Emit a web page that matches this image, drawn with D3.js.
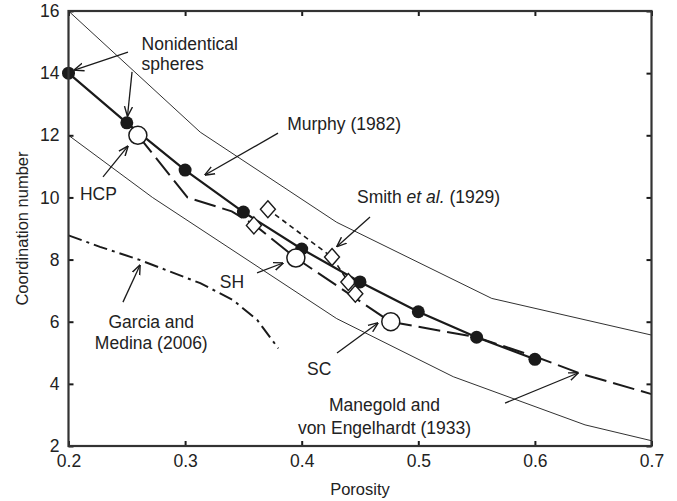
<!DOCTYPE html>
<html><head><meta charset="utf-8">
<script src="https://cdn.jsdelivr.net/npm/d3@7"></script>
<style>
body{margin:0;background:#fff;}
svg text{font-family:"Liberation Sans",Arial,Helvetica,sans-serif;fill:#222;}
</style></head><body>
<svg id="chart" width="677" height="501"></svg>
<script>
// Axis ticks
const xTicks = [0.2, 0.3, 0.4, 0.5, 0.6, 0.7];
const yTicks = [2, 4, 6, 8, 10, 12, 14, 16];

// Murphy (1982): nonidentical spheres
const murphyPorosity = [0.2, 0.25, 0.3, 0.35, 0.4, 0.45, 0.5, 0.55, 0.6];
const murphyCoord    = [14.0, 12.4, 10.88, 9.53, 8.34, 7.28, 6.32, 5.5, 4.79];

// Upper and lower bounding curves
const upperPorosity = [0.2, 0.313, 0.43, 0.563, 0.7];
const upperCoord    = [16.0, 12.1, 9.2, 6.75, 5.57];
const lowerPorosity = [0.2, 0.272, 0.43, 0.53, 0.643, 0.7];
const lowerCoord    = [12.0, 10.0, 6.1, 4.23, 2.68, 2.17];

// Manegold and von Engelhardt (1933)
const manegoldPorosity = [0.2595, 0.302, 0.34, 0.36, 0.395, 0.476, 0.52, 0.55, 0.6, 0.64, 0.7];
const manegoldCoord    = [12.0, 10.0, 9.55, 9.1, 8.05, 6.0, 5.7, 5.5, 4.88, 4.32, 3.67];

// Regular packings: hexagonal close, simple hexagonal, simple cubic
const packingNames    = ["HCP", "SH", "SC"];
const packingPorosity = [0.2595, 0.395, 0.4764];
const packingCoord    = [12.0, 8.05, 6.0];

// Smith et al. (1929)
const smithPorosity = [0.359, 0.371, 0.426, 0.440, 0.446];
const smithCoord    = [9.1, 9.62, 8.08, 7.28, 6.9];

// Garcia and Medina (2006)
const garciaPorosity = [0.2, 0.227, 0.261, 0.313, 0.341, 0.362, 0.38];
const garciaCoord    = [8.78, 8.41, 7.99, 7.24, 6.70, 6.05, 5.14];

// Annotation arrows: [fromPorosity, fromCoord, toPorosity, toCoord]
const arrows = [
  [0.251, 14.68, 0.205, 14.1],
  [0.2545, 14.04, 0.2506, 12.62],
  [0.2296, 10.66, 0.251, 11.65],
  [0.3797, 12.07, 0.317, 10.72],
  [0.4586, 9.37, 0.4303, 8.42],
  [0.3617, 7.57, 0.384, 7.89],
  [0.2467, 6.63, 0.2613, 7.82],
  [0.4303, 4.99, 0.4654, 5.96],
  [0.5744, 3.38, 0.637, 4.35]
];

// Annotation labels: [text, porosity, coord, anchor]
const labels = [
  ["Nonidentical", 0.2627, 14.75, "start"],
  ["spheres", 0.2627, 14.1, "start"],
  ["HCP", 0.2098, 9.92, "start"],
  ["Murphy (1982)", 0.3876, 12.17, "start"],
  ["SH", 0.3298, 7.1, "start"],
  ["Garcia and", 0.271, 5.8, "middle"],
  ["Medina (2006)", 0.271, 5.12, "middle"],
  ["SC", 0.4046, 4.3, "start"],
  ["Manegold and", 0.471, 3.13, "middle"],
  ["von Engelhardt (1933)", 0.471, 2.39, "middle"]
];
const smithLabel = {porosity: 0.4474, coord: 9.82};

const svg = d3.select("#chart");
const x = d3.scaleLinear().domain([0.2, 0.7]).range([68.5, 651.5]);
const y = d3.scaleLinear().domain([2, 16]).range([446, 11]);
const ink = "#1a1a1a";
const fontSize = 17.5;

const defs = svg.append("defs");
defs.append("marker").attr("id", "head")
  .attr("viewBox", "0 -5 10 10").attr("refX", 9.5).attr("refY", 0)
  .attr("markerWidth", 10).attr("markerHeight", 10).attr("markerUnits", "userSpaceOnUse")
  .attr("orient", "auto")
  .append("path").attr("d", "M0,-4L10,0L0,4")
  .attr("fill", "none").attr("stroke", ink).attr("stroke-width", 1.4);

const line = d3.line().x(d => x(d[0])).y(d => y(d[1]));
const pairs = (a, b) => a.map((v, i) => [v, b[i]]);

// bounding curves
svg.append("path").datum(pairs(upperPorosity, upperCoord)).attr("d", line)
  .attr("fill", "none").attr("stroke", ink).attr("stroke-width", 0.9);
svg.append("path").datum(pairs(lowerPorosity, lowerCoord)).attr("d", line)
  .attr("fill", "none").attr("stroke", ink).attr("stroke-width", 0.9);

// Garcia and Medina dash-dot curve
svg.append("path").datum(pairs(garciaPorosity, garciaCoord)).attr("d", line)
  .attr("fill", "none").attr("stroke", ink).attr("stroke-width", 2)
  .attr("stroke-dasharray", "14,5,3,5");

// Manegold dashed curve
svg.append("path").datum(pairs(manegoldPorosity, manegoldCoord)).attr("d", line)
  .attr("fill", "none").attr("stroke", ink).attr("stroke-width", 2)
  .attr("stroke-dasharray", "22,7");

// Smith short-dash curve
svg.append("path").datum(pairs(smithPorosity.slice(1), smithCoord.slice(1))).attr("d", line)
  .attr("fill", "none").attr("stroke", ink).attr("stroke-width", 1.6)
  .attr("stroke-dasharray", "5,4");

// Murphy solid curve
svg.append("path").datum(pairs(murphyPorosity, murphyCoord)).attr("d", line)
  .attr("fill", "none").attr("stroke", ink).attr("stroke-width", 2.2);

// Smith diamonds
svg.append("g").selectAll("path").data(pairs(smithPorosity, smithCoord)).join("path")
  .attr("transform", d => `translate(${x(d[0])},${y(d[1])})`)
  .attr("d", "M0,-8.5L7.5,0L0,8.5L-7.5,0Z")
  .attr("fill", "#fff").attr("stroke", ink).attr("stroke-width", 1.4);

// Murphy filled circles
svg.append("g").selectAll("circle").data(pairs(murphyPorosity, murphyCoord)).join("circle")
  .attr("cx", d => x(d[0])).attr("cy", d => y(d[1])).attr("r", 6.5)
  .attr("fill", ink);

// regular packing open circles
svg.append("g").selectAll("circle").data(pairs(packingPorosity, packingCoord)).join("circle")
  .attr("cx", d => x(d[0])).attr("cy", d => y(d[1])).attr("r", 9)
  .attr("fill", "#fff").attr("stroke", ink).attr("stroke-width", 1.5);

// arrows
svg.append("g").selectAll("line").data(arrows).join("line")
  .attr("x1", d => x(d[0])).attr("y1", d => y(d[1]))
  .attr("x2", d => x(d[2])).attr("y2", d => y(d[3]))
  .attr("stroke", ink).attr("stroke-width", 1.3)
  .attr("marker-end", "url(#head)");

// labels
svg.append("g").selectAll("text").data(labels).join("text")
  .attr("x", d => x(d[1])).attr("y", d => y(d[2]))
  .attr("text-anchor", d => d[3])
  .attr("font-size", fontSize)
  .text(d => d[0]);
const st = svg.append("text").attr("x", x(smithLabel.porosity)).attr("y", y(smithLabel.coord))
  .attr("font-size", fontSize);
st.append("tspan").text("Smith ");
st.append("tspan").attr("font-style", "italic").text("et al.");
st.append("tspan").text(" (1929)");

// axes with inward ticks on all four sides
function styleAxis(g) {
  g.select(".domain").remove();
  g.selectAll(".tick line").attr("stroke", ink).attr("stroke-width", 2);
  g.selectAll(".tick text").attr("font-size", fontSize).attr("fill", "#222")
    .attr("font-family", '"Liberation Sans",Arial,sans-serif');
}
svg.append("g").attr("transform", "translate(0,446)")
  .call(d3.axisBottom(x).tickValues(xTicks).tickFormat(d3.format(".1f")).tickSize(-5).tickPadding(9))
  .call(styleAxis);
svg.append("g").attr("transform", "translate(0,11)")
  .call(d3.axisTop(x).tickValues(xTicks).tickFormat("").tickSize(-5))
  .call(styleAxis);
svg.append("g").attr("transform", "translate(68.5,0)")
  .call(d3.axisLeft(y).tickValues(yTicks).tickFormat(d3.format("d")).tickSize(-5).tickPadding(9))
  .call(styleAxis);
svg.append("g").attr("transform", "translate(651.5,0)")
  .call(d3.axisRight(y).tickValues(yTicks).tickFormat("").tickSize(-5))
  .call(styleAxis);

// frame
svg.append("rect").attr("x", x(0.2)).attr("y", y(16))
  .attr("width", x(0.7) - x(0.2)).attr("height", y(2) - y(16))
  .attr("fill", "none").attr("stroke", "#333").attr("stroke-width", 2.2);

// axis titles
svg.append("text").attr("x", (x(0.2) + x(0.7)) / 2).attr("y", 495)
  .attr("text-anchor", "middle").attr("font-size", fontSize - 1).text("Porosity");
svg.append("text").attr("transform", `translate(28,${(y(2) + y(16)) / 2}) rotate(-90)`)
  .attr("text-anchor", "middle").attr("font-size", fontSize - 1).text("Coordination number");
</script>
</body></html>
